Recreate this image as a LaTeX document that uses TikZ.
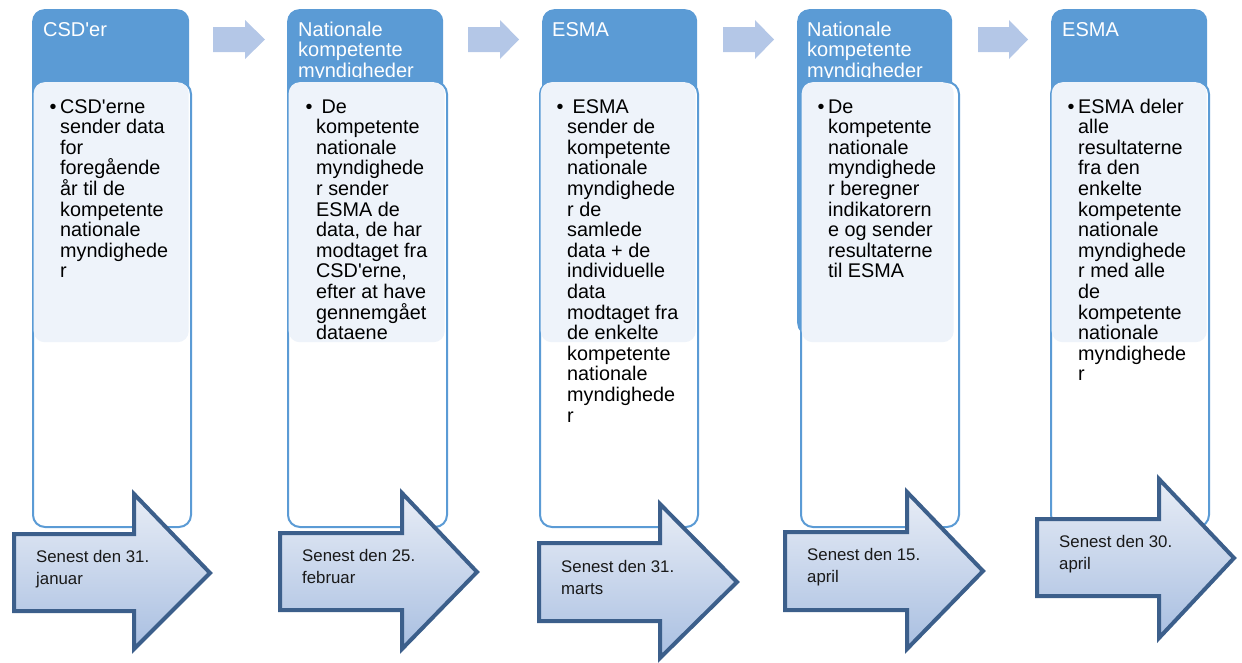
\documentclass[tikz,border=0pt]{standalone}
\usepackage{fontspec}
\setmainfont{Liberation Sans}[Ligatures=TeXOff]
\definecolor{hdr}{HTML}{5B9BD5}
\definecolor{lite}{HTML}{EEF3FA}
\definecolor{sarrow}{HTML}{B4C7E7}
\definecolor{aborder}{HTML}{3C5F8B}
\definecolor{atop}{HTML}{E8EDF6}
\definecolor{abot}{HTML}{A9BFE1}
\newcommand{\colbody}[1]{\parbox[t]{170pt}{\raggedright #1}}
\newcommand{\bul}{\leavevmode\llap{\makebox[10.5pt][l]{•}}}
\newcommand{\bigarr}[8]{%
  \path[bigarrow] (#1+2,#2+2) -- (#4+2,#2+2) -- (#4+2,#5+4) -- (#7-3,#8) -- (#4+2,#6-4) -- (#4+2,#3-2) -- (#1+2,#3-2) -- cycle;}
\newcommand{\smallarr}[3]{%
  \fill[sarrow] (#1,27) -- (#2,27) -- (#2,20) -- (#3,39.5) -- (#2,59) -- (#2,52) -- (#1,52) -- cycle;}
\begin{document}
\begin{tikzpicture}[x=1pt,y=-1pt,
  hdrbox/.style={fill=hdr, rounded corners=12pt, inner sep=0pt, anchor=north west},
  tallbox/.style={fill=white, draw=hdr, line width=2pt, rounded corners=12pt, inner sep=0pt, anchor=north west},
  litebox/.style={fill=lite, rounded corners=11pt, inner sep=0pt, anchor=north west},
  hdrtext/.style={anchor=base west, inner sep=0pt, text=white, font=\fontsize{20}{20.6}\selectfont},
  bodytext/.style={anchor=base west, inner sep=0pt, text=black, font=\fontsize{19.8}{20.6}\selectfont},
  arrtext/.style={anchor=base west, inner sep=0pt, text=black!90, font=\fontsize{16.8}{22}\selectfont},
  bigarrow/.style={draw=aborder, line width=4pt, line join=miter, top color=atop, bottom color=abot}
]
\useasboundingbox (0,0) rectangle (1242,662);

% ---- headers
\node[hdrbox, minimum width=157pt, minimum height=326pt] (h1) at (32,9) {};
\node[hdrbox, minimum width=156pt, minimum height=326pt] (h2) at (287,9) {};
\node[hdrbox, minimum width=155pt, minimum height=326pt] (h3) at (542,9) {};
\node[hdrbox, minimum width=155pt, minimum height=326pt] (h4) at (797,9) {};
\node[hdrbox, minimum width=156pt, minimum height=326pt] (h5) at (1051,9) {};
\begin{scope}
\clip (0,0) rectangle (1242,77.5);
\node[hdrtext] (ht1) at (43,36) {CSD'er};
\node[hdrtext] (ht2) at (298,36) {\parbox[t]{150pt}{Nationale\\kompetente\\myndigheder}};
\node[hdrtext] (ht3) at (552,36) {ESMA};
\node[hdrtext] (ht4) at (807,36) {\parbox[t]{150pt}{Nationale\\kompetente\\myndigheder}};
\node[hdrtext] (ht5) at (1062,36) {ESMA};
\end{scope}

% ---- column 1
\node[tallbox, minimum width=158pt, minimum height=445pt] (b1) at (32,81) {};
\node[litebox, minimum width=155pt, minimum height=260pt] (l1) at (33.5,82) {};
\node[bodytext] (t1) at (60,113) {\colbody{\bul CSD'erne\\sender data\\for\\foregående\\år til de\\kompetente\\nationale\\myndighede\\r}};

% ---- column 2
\node[tallbox, minimum width=159pt, minimum height=445pt] (b2) at (287,81) {};
\node[litebox, minimum width=156pt, minimum height=260pt] (l2) at (288.5,82) {};
\node[bodytext] (t2) at (316,113) {\colbody{\bul\hspace{5.5pt}De\\kompetente\\nationale\\myndighede\\r sender\\ESMA de\\data, de har\\modtaget fra\\CSD'erne,\\efter at have\\gennemgået\\dataene}};

% ---- column 3
\node[tallbox, minimum width=158pt, minimum height=445pt] (b3) at (539,81) {};
\node[litebox, minimum width=155pt, minimum height=260pt] (l3) at (540.5,82) {};
\node[bodytext] (t3) at (567,113) {\colbody{\bul\hspace{5.5pt}ESMA\\sender de\\kompetente\\nationale\\myndighede\\r de\\samlede\\data + de\\individuelle\\data\\modtaget fra\\de enkelte\\kompetente\\nationale\\myndighede\\r}};

% ---- column 4
\node[tallbox, minimum width=158pt, minimum height=445pt] (b4) at (800,81) {};
\node[litebox, minimum width=152pt, minimum height=260pt] (l4) at (801.5,82) {};
\node[bodytext] (t4) at (828,113) {\colbody{\bul De\\kompetente\\nationale\\myndighede\\r beregner\\indikatorern\\e og sender\\resultaterne\\til ESMA}};

% ---- column 5
\node[tallbox, minimum width=158pt, minimum height=445pt] (b5) at (1050,81) {};
\node[litebox, minimum width=155pt, minimum height=260pt] (l5) at (1051.5,82) {};
\node[bodytext] (t5) at (1078,113) {\colbody{\bul ESMA deler\\alle\\resultaterne\\fra den\\enkelte\\kompetente\\nationale\\myndighede\\r med alle\\de\\kompetente\\nationale\\myndighede\\r}};

% ---- small arrows between headers
\smallarr{213}{245}{265}
\smallarr{468}{500}{519}
\smallarr{723}{755}{774}
\smallarr{978}{1009}{1028}

% ---- big arrows with deadlines
\bigarr{12}{532}{613}{132}{490}{653}{213}{573}
\node[arrtext] (d1) at (36,562) {\parbox[t]{150pt}{Senest den 31.\\januar}};
\bigarr{278}{531}{612}{400}{489}{653}{480}{572}
\node[arrtext] (d2) at (302,561) {\parbox[t]{150pt}{Senest den 25.\\februar}};
\bigarr{537}{541}{623}{658}{500}{662}{740}{582}
\node[arrtext] (d3) at (561,572) {\parbox[t]{150pt}{Senest den 31.\\marts}};
\bigarr{783}{530}{612}{905}{488}{653}{986}{571}
\node[arrtext] (d4) at (807,560) {\parbox[t]{150pt}{Senest den 15.\\april}};
\bigarr{1035}{517}{598}{1157}{475}{642}{1237}{558}
\node[arrtext] (d5) at (1059,547) {\parbox[t]{150pt}{Senest den 30.\\april}};
\end{tikzpicture}
\end{document}
